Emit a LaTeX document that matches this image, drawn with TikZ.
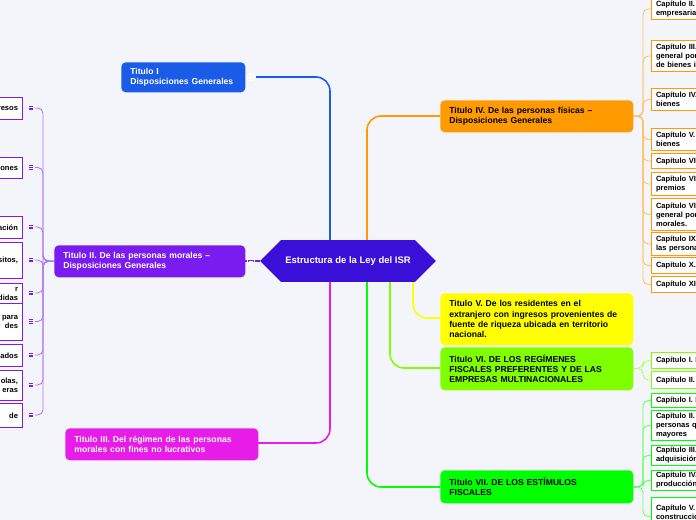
\documentclass[tikz,border=0pt]{standalone}
\usepackage{fontspec}
\setmainfont{Liberation Sans}
\usetikzlibrary{shapes.symbols}
\definecolor{bgc}{HTML}{F4F5FB}
\definecolor{cblue}{HTML}{1A5CE8}
\definecolor{cviolet}{HTML}{7A1CF0}
\definecolor{cmag}{HTML}{E81CE8}
\definecolor{corange}{HTML}{FF9A00}
\definecolor{cyel}{HTML}{FFFF00}
\definecolor{clime}{HTML}{80FF00}
\definecolor{cgreen}{HTML}{00FF00}
\definecolor{ccenter}{HTML}{3A10D8}
\tikzset{
  title/.style={rectangle,rounded corners=2.5pt,anchor=north west,align=left,
    inner xsep=0.18cm,inner ysep=2pt,text width=3.5cm,
    font=\fontsize{4.9}{5.9}\selectfont\bfseries},
  sub/.style={rectangle,draw=#1,fill=white,line width=0.6pt,anchor=north west,
    align=left,inner xsep=0.09cm,inner ysep=1pt,text width=4cm,
    font=\fontsize{4.3}{5.1}\selectfont\bfseries},
  lsub/.style={rectangle,draw=cviolet,fill=white,line width=0.6pt,anchor=north east,
    align=right,inner xsep=0.09cm,inner ysep=1pt,text width=2cm,
    font=\fontsize{4.3}{5.1}\selectfont\bfseries},
  link/.style={draw=#1,line width=0.9pt},
  thin/.style={draw=#1!60,line width=0.5pt,rounded corners=3pt},
  menu/.style={minimum size=0.14cm,inner sep=0pt,
    path picture={\foreach \yy in {-0.035,0,0.035}
      \draw[#1,line width=0.4pt] ([xshift=-0.045cm,yshift=\yy cm]path picture bounding box.center)
        -- ++(0.09cm,0);}},
}
\begin{document}
\begin{tikzpicture}[x=0.02cm,y=-0.02cm]
\fill[bgc] (0,0) rectangle (696,520);
\useasboundingbox (0,0) rectangle (696,520);

% connectors of the titles
\draw[link=cblue,rounded corners=8pt] (330,240) -- (330,77) -- (256,77);
\draw[link=corange,rounded corners=8pt] (367,240) -- (367,116) -- (440,116);
\draw[link=cyel,rounded corners=8pt] (413,282) -- (413,318) -- (440,318);
\draw[link=clime,rounded corners=8pt] (390,282) -- (390,368) -- (440,368);
\draw[link=cgreen,rounded corners=8pt] (367,282) -- (367,487) -- (440,487);
\draw[link=cmag,rounded corners=8pt] (330,282) -- (330,443) -- (257,443);
\draw[link=cviolet] (260,261) -- (245,261);

% center
\node[signal,signal to=west and east,fill=ccenter,text=white,minimum width=3.52cm,
  minimum height=0.84cm,inner sep=0pt,font=\fontsize{5.4}{7}\selectfont\bfseries]
  (isr) at (348,261) {Estructura de la Ley del ISR};

% titles
\node[title,fill=cblue,text=white,minimum width=2.48cm,minimum height=0.6cm,text width=2.12cm]
  (t1) at (121,62) {Titulo I\\Disposiciones Generales};
\node[title,fill=cviolet,text=white,minimum width=3.82cm,minimum height=0.64cm,text width=3.46cm]
  (t2) at (54,245) {Titulo II. De las personas morales –\\Disposiciones Generales};
\node[title,fill=cmag,text=white,minimum width=3.84cm,minimum height=0.64cm]
  (t3) at (65,428) {Titulo III. Del régimen de las personas\\morales con fines no lucrativos};
\node[title,fill=corange,minimum width=3.84cm,minimum height=0.64cm]
  (t4) at (440,100) {Titulo IV. De las personas físicas –\\Disposiciones Generales};
\node[title,fill=cyel,minimum width=3.84cm,minimum height=1.04cm]
  (t5) at (440,293) {Titulo V. De los residentes en el\\extranjero con ingresos provenientes de\\fuente de riqueza  ubicada en territorio\\nacional.};
\node[title,fill=clime,minimum width=3.84cm,minimum height=0.86cm]
  (t6) at (440,347) {Titulo VI.  DE LOS REGÍMENES\\FISCALES PREFERENTES Y DE LAS\\EMPRESAS MULTINACIONALES};
\node[title,fill=cgreen,minimum width=3.84cm,minimum height=0.66cm]
  (t7) at (440,470) {Titulo VII. DE LOS ESTÍMULOS\\FISCALES};

% menu icons of the titles
\node[menu=white,draw=white,rounded corners=1pt] (m1) at (251,77) {};
\node[menu=white,draw=white,rounded corners=1pt] (m2) at (251,261) {};

% subtopics of Titulo II
\foreach \n/\ya/\yb/\txt in {a/97/119/resos, b/157/178/iones, c/216/238/ación,
    d/242/278/{sitos,}, e/283/303/r\\didas, f/303/340/para\\des, g/344/366/nados,
    h/370/400/{olas,\\eras}, i/403/427/de} {
  \node[lsub,minimum height=(\yb-\ya)*0.02cm] (l\n) at (23,\ya) {\txt};
  \node[menu=cviolet] (ml\n) at (31,{(\ya+\yb)/2}) {};
  \draw[thin=cviolet] (t2.west) -- (43,261) |- (ml\n.east);
}

% subtopics of Titulo IV
\foreach \n/\ya/\yb/\txt in {a/-2/19/{Capítulo II.  De los ingresos por actividades\\empresariales}, b/40/71/{Capítulo III. De los ingresos\\general por otorgar el uso\\de bienes inmuebles},
    c/88/110/{Capítulo IV. de la enajenación de\\bienes}, d/128/150/{Capítulo V. De la adquisición de\\bienes}, e/153/168/{Capítulo VI. De los intereses},
    f/172/195/{Capítulo VII. De la obtención de\\premios}, g/198/230/{Capítulo VIII. De los ingresos\\general por las personas\\morales.},
    h/232/255/{Capítulo IX. De los demás ingresos\\las personas físicas}, i/257/273/{Capítulo X. De los requisitos}, j/276/292/{Capítulo XI. De las deducciones}} {
  \node[sub=corange,minimum height=(\yb-\ya)*0.02cm] (r\n) at (651,\ya) {\txt};
  \draw[thin=corange] (t4.east) -- (643,116) |- (r\n.west);
}

% subtopics of Titulo VI
\foreach \n/\ya/\yb/\txt in {a/352/368/{Capítulo I. De los regímenes}, b/371/388/{Capítulo II.  De las empresas}} {
  \node[sub=clime,minimum height=(\yb-\ya)*0.02cm] (s\n) at (651,\ya) {\txt};
  \draw[thin=clime] (t6.east) -- (643,368) |- (s\n.west);
}

% subtopics of Titulo VII
\foreach \n/\ya/\yb/\txt in {a/393/407/{Capítulo I. De los estímulos}, b/410/440/{Capítulo II. De los estímulos\\personas que contraten\\mayores},
    c/445/463/{Capítulo III. De los estímulos\\adquisición}, d/470/488/{Capítulo IV. De los estímulos\\producción cinematográfica},
    e/497/535/{Capítulo V. De los estímulos\\construcción y\\inmobiliarias}} {
  \node[sub=cgreen,minimum height=(\yb-\ya)*0.02cm] (g\n) at (651,\ya) {\txt};
  \draw[thin=cgreen] (t7.east) -- (643,487) |- (g\n.west);
}
\end{tikzpicture}
\end{document}
